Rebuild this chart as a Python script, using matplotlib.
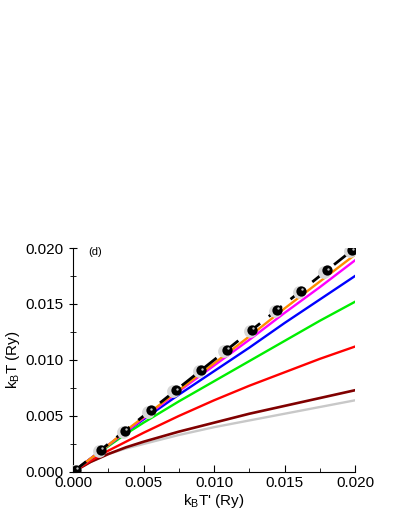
import numpy as np
from matplotlib import pyplot as plt
from matplotlib.ticker import MultipleLocator

plt.rcParams["font.family"] = ["Liberation Sans", "DejaVu Sans"]
plt.rcParams["mathtext.fontset"] = "custom"
plt.rcParams["mathtext.rm"] = "Liberation Sans"
plt.rcParams["mathtext.it"] = "Liberation Sans:italic"

# curves, sampled on a common x grid (Ry)
x_grid = [0, 0.00125, 0.0025, 0.00375, 0.005, 0.0075, 0.01, 0.0125, 0.015, 0.0175, 0.02]
orange = [0, 0.0012, 0.0024, 0.0037, 0.0049, 0.0073, 0.0097, 0.0121, 0.0146, 0.0170, 0.0194]
magenta = [0, 0.0012, 0.0024, 0.0036, 0.0048, 0.0072, 0.0095, 0.0118, 0.0142, 0.0165, 0.0189]
blue = [0, 0.0012, 0.0024, 0.0036, 0.0047, 0.0069, 0.0090, 0.0111, 0.0133, 0.0154, 0.0175]
green = [0, 0.0012, 0.0023, 0.0034, 0.0044, 0.0063, 0.0081, 0.0099, 0.0117, 0.0135, 0.0152]
red = [0, 0.0010, 0.0019, 0.0027, 0.0035, 0.0050, 0.0064, 0.0077, 0.0089, 0.0101, 0.0112]
darkred = [0, 0.0009, 0.0016, 0.0022, 0.0027, 0.0036, 0.0044, 0.0052, 0.0059, 0.0066, 0.0073]
grey = [0, 0.0009, 0.0016, 0.0021, 0.0025, 0.0033, 0.0040, 0.0046, 0.0052, 0.0058, 0.0064]

# black spheres (reference points)
pts_x = [0.0002, 0.0020, 0.0037, 0.0055, 0.0073, 0.0091, 0.0109, 0.0127, 0.0145, 0.0162, 0.0180, 0.0198]
pts_y = [0.0002, 0.0020, 0.0037, 0.0055, 0.0073, 0.0091, 0.0109, 0.0127, 0.0145, 0.0162, 0.0180, 0.0198]

fig = plt.figure(figsize=(4.07, 5.27), dpi=100)
ax = fig.add_axes([0.1794, 0.1044, 0.6929, 0.425])

ax.plot(x_grid, grey, color="#c8c8c8", lw=1.7)
ax.plot(x_grid, darkred, color="#800000", lw=1.9)
ax.plot(x_grid, red, color="#ff0000", lw=1.7)
ax.plot(x_grid, green, color="#00ee00", lw=1.7)
ax.plot(x_grid, blue, color="#0000ff", lw=1.7)
ax.plot(x_grid, magenta, color="#ff00ff", lw=1.7)
ax.plot(x_grid, orange, color="#ff8c00", lw=1.7)
ax.plot([0, 0.02], [0, 0.02], color="black", lw=2, dashes=(6, 4))

# sphere look: grey halo, black ball, small highlight
px = np.array(pts_x)
py = np.array(pts_y)
ax.scatter(px - 0.00018, py - 0.0001, s=85, color="#d8d8d8", zorder=4, lw=0)
ax.scatter(px, py, s=55, color="black", zorder=5, lw=0)
ax.scatter(px + 0.00006, py + 0.00014, s=3, color="#c0c0c0", zorder=6, lw=0)

ax.text(0.0011, 0.0196, "(d)", fontsize=8, va="center", ha="left")

ax.set_xlim(0, 0.02)
ax.set_ylim(0, 0.02)
ax.xaxis.set_major_locator(MultipleLocator(0.005))
ax.xaxis.set_minor_locator(MultipleLocator(0.0025))
ax.yaxis.set_major_locator(MultipleLocator(0.005))
ax.yaxis.set_minor_locator(MultipleLocator(0.0025))
ax.xaxis.set_major_formatter(lambda v, p: f"{v:.3f}")
ax.yaxis.set_major_formatter(lambda v, p: f"{v:.3f}")
ax.tick_params(axis="x", which="major", direction="in", length=5, labelsize=11, pad=3)
ax.tick_params(axis="x", which="minor", direction="in", length=3)
ax.tick_params(axis="y", which="major", direction="inout", length=6, labelsize=11)
ax.tick_params(axis="y", which="minor", direction="inout", length=4)
ax.spines["top"].set_visible(False)
ax.spines["right"].set_visible(False)

ax.set_xlabel(r"k$_\mathrm{B}$T' (Ry)", fontsize=11, labelpad=1)
ax.set_ylabel(r"k$_\mathrm{B}$T (Ry)", fontsize=11, labelpad=3)

fig.savefig("out.png", dpi=100)
